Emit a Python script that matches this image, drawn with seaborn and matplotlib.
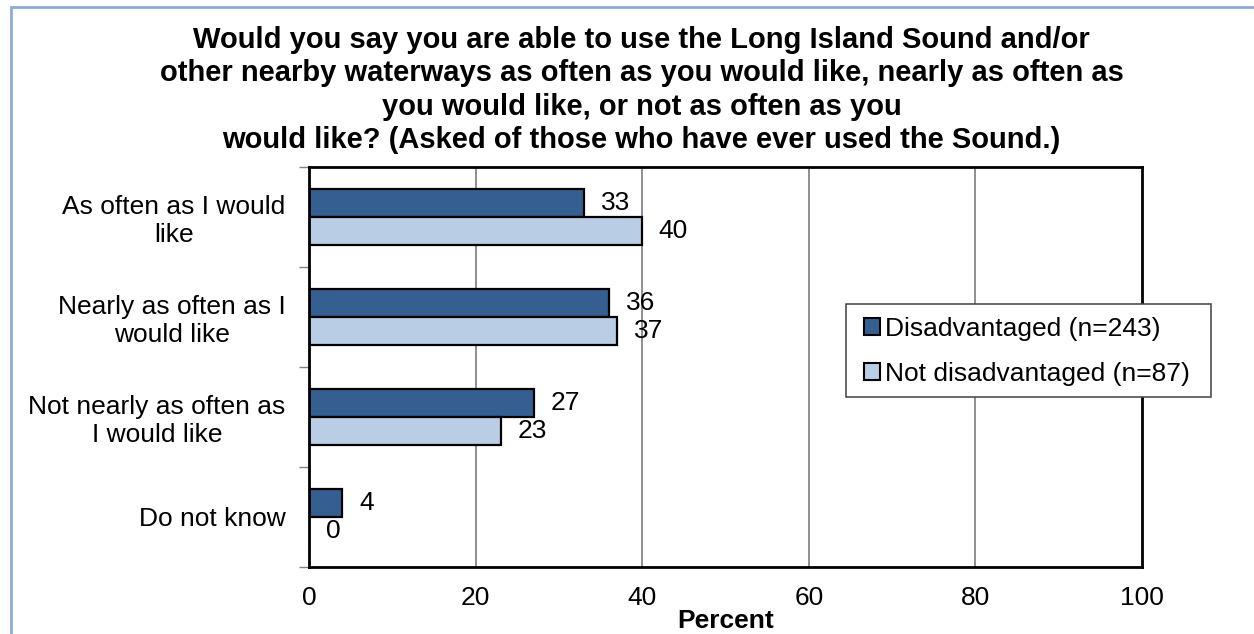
import matplotlib
matplotlib.use("Agg")
import matplotlib.pyplot as plt
import seaborn as sns
import pandas as pd
from matplotlib.patches import Patch, Rectangle
from matplotlib.ticker import FixedLocator

categories = ["As often as I would\nlike",
              "Nearly as often as I\nwould like",
              "Not nearly as often as\nI would like",
              "Do not know"]
series_names = ["Disadvantaged (n=243)", "Not disadvantaged (n=87)"]
disadvantaged = [33, 36, 27, 4]
not_disadvantaged = [40, 37, 23, 0]
x_ticks = [0, 20, 40, 60, 80, 100]
title = ("Would you say you are able to use the Long Island Sound and/or\n"
         "other nearby waterways as often as you would like, nearly as often as\n"
         "you would like, or not as often as you\n"
         "would like? (Asked of those who have ever used the Sound.)")
colors = ["#365F91", "#B9CDE5"]

sns.set_theme(style="white")
plt.rcParams['font.family'] = ['Liberation Sans', 'DejaVu Sans']
plt.rcParams['text.color'] = 'black'
plt.rcParams['axes.labelcolor'] = 'black'
plt.rcParams['xtick.color'] = 'black'
plt.rcParams['ytick.color'] = 'black'

df = pd.DataFrame({
    "category": categories * 2,
    "series": [series_names[0]] * 4 + [series_names[1]] * 4,
    "value": disadvantaged + not_disadvantaged,
})

W, H = 1254, 634
FS = 19
fig = plt.figure(figsize=(W / 100, H / 100), dpi=100)
ax = fig.add_axes([309 / W, 1 - 566.7 / H, (1142 - 309) / W, (566.7 - 166.7) / H])

sns.barplot(data=df, y="category", x="value", hue="series", order=categories,
            hue_order=series_names, palette=colors, orient="h", width=0.56,
            edgecolor="black", linewidth=1.6, ax=ax, legend=False, errorbar=None,
            saturation=1)

ax.set_xlim(0, 100)
ax.set_ylim(3.5, -0.5)
ax.set_xticks(x_ticks)
ax.set_xticklabels([str(t) for t in x_ticks], fontsize=FS)
ax.tick_params(axis="x", length=5, width=1, color="#808080", pad=9, direction="out")
ax.tick_params(axis="y", which="major", length=0, pad=17, labelsize=FS)
for lbl in ax.get_yticklabels():
    lbl.set_multialignment("center")
ax.yaxis.set_minor_locator(FixedLocator([-0.5, 0.5, 1.5, 2.5, 3.5]))
ax.tick_params(axis="y", which="minor", length=7, width=1, color="#808080", left=True, direction="out")
ax.set_ylabel("")
ax.set_xlabel("Percent", fontsize=FS, fontweight="bold", labelpad=-1)

for gx in [20, 40, 60, 80]:
    ax.axvline(gx, color="#707070", lw=1.1, zorder=0)

for s in ax.spines.values():
    s.set_visible(True)
    s.set_color("black")
    s.set_linewidth(2)

for cont, vals in zip(ax.containers, [disadvantaged, not_disadvantaged]):
    ax.bar_label(cont, labels=[str(v) for v in vals], padding=12, fontsize=FS)

# legend frame drawn separately for exact padding
fig.patches.append(Rectangle((846 / W, 1 - 397 / H), (1211 - 846) / W, (397 - 304) / H,
                             transform=fig.transFigure, facecolor="white",
                             edgecolor="#404040", linewidth=1.1, zorder=5))
handles = [Patch(facecolor=c, edgecolor="black", linewidth=1.5) for c in colors]
leg = fig.legend(handles, series_names, loc="upper left",
                 bbox_to_anchor=(864 / W, 1 - 317 / H), bbox_transform=fig.transFigure,
                 fontsize=FS, frameon=False, handlelength=0.6, handleheight=0.6,
                 handletextpad=0.2, labelspacing=0.78, borderpad=0, borderaxespad=0)
leg.set_zorder(6)

fig.text(641.5 / W, 1 - 26 / H, title, ha="center", va="top", fontsize=21,
         fontweight="bold", linespacing=1.24)

fig.patches.append(Rectangle((11 / W, -0.1), 1.2, 1 - 7 / H + 0.1, transform=fig.transFigure,
                             fill=False, edgecolor="#8EAADB", linewidth=2))

fig.savefig("out.png", dpi=100, facecolor="white")
